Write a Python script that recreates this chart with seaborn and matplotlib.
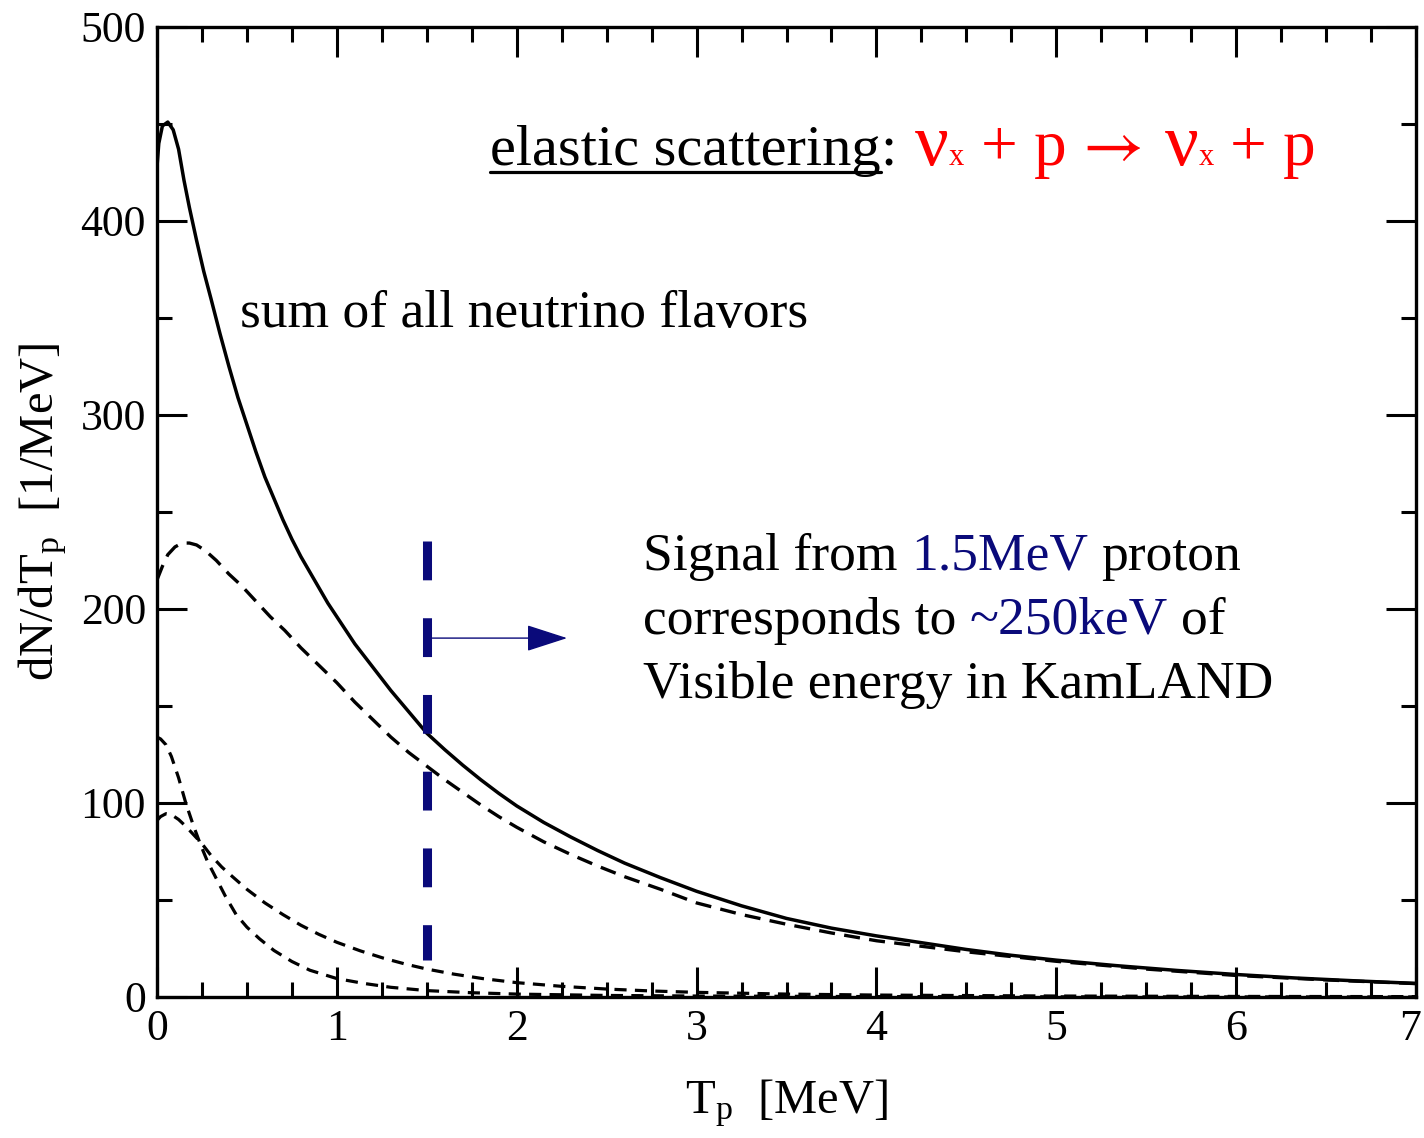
import numpy as np
import pandas as pd
import matplotlib
matplotlib.use("Agg")
import matplotlib.pyplot as plt
from matplotlib.ticker import MultipleLocator
from matplotlib.lines import Line2D
from matplotlib.transforms import ScaledTranslation
import seaborn as sns

# ---------------- data ----------------
T_sum = [0.0, 0.01, 0.03, 0.06, 0.09, 0.12, 0.15, 0.18, 0.22, 0.26, 0.30, 0.35, 0.40, 0.45,
         0.50, 0.55, 0.60, 0.65, 0.70, 0.75, 0.80, 0.85, 0.90, 0.95, 1.00, 1.10, 1.20, 1.30,
         1.40, 1.50, 1.60, 1.70, 1.80, 1.90, 2.00, 2.15, 2.30, 2.45, 2.60, 2.80, 3.00, 3.25,
         3.50, 3.75, 4.00, 4.25, 4.50, 4.75, 5.00, 5.33, 5.67, 6.00, 6.33, 6.67, 7.00]
N_sum = [428, 440, 449, 451, 447, 437, 421, 407, 390, 374, 360, 342, 325, 309,
         295, 281, 268, 257, 246, 236, 227, 219, 211, 203, 196, 182, 170, 158,
         147, 136, 127.5, 119.5, 112, 105, 98.5, 90, 82.5, 75.5, 69, 61.5, 54.5, 47,
         40.5, 35.5, 31.5, 28, 24.5, 21.5, 19, 16.2, 13.7, 11.6, 9.8, 8.3, 7]

T_dash1 = [0.0, 0.03, 0.06, 0.10, 0.14, 0.18, 0.22, 0.27, 0.33, 0.40, 0.47, 0.55, 0.63, 0.71,
           0.80, 0.90, 1.00, 1.10, 1.20, 1.30, 1.40, 1.50, 1.60, 1.70, 1.80, 1.90, 2.00, 2.15,
           2.30, 2.45, 2.60, 2.80, 3.00, 3.25, 3.50, 3.75, 4.00, 4.50, 5.00, 5.50, 6.00, 6.50, 7.00]
N_dash1 = [215, 222, 228, 232, 234, 234, 233, 230, 225, 218, 212, 204, 196, 189,
           180, 171, 162, 152, 143, 134, 126, 119, 112, 105.5, 99, 93, 87.5, 80,
           73.5, 67.5, 62, 55.5, 48.5, 42.5, 37.5, 33, 29, 23.3, 18.4, 14.4, 11.1, 8.8, 6.9]

T_dash2 = [0.0, 0.02, 0.05, 0.08, 0.12, 0.16, 0.20, 0.24, 0.28, 0.33, 0.38, 0.44, 0.50, 0.57,
           0.65, 0.75, 0.85, 1.00, 1.15, 1.30, 1.50, 1.75, 2.00, 2.50, 3.00, 4.00, 5.00, 6.00, 7.00]
N_dash2 = [134, 133, 130, 124, 113, 100, 89, 79, 70, 61, 52, 42.5, 36, 30,
           24, 18.3, 13.8, 9.5, 7, 5, 3.3, 2.2, 1.5, 0.8, 0.5, 0.2, 0.1, 0.05, 0.03]

T_dash3 = [0.0, 0.02, 0.05, 0.08, 0.12, 0.16, 0.20, 0.25, 0.30, 0.36, 0.42, 0.50, 0.60, 0.70,
           0.80, 0.90, 1.00, 1.13, 1.26, 1.38, 1.50, 1.65, 1.81, 2.00, 2.25, 2.50, 2.75, 3.00,
           3.50, 4.00, 5.00, 6.00, 7.00]
N_dash3 = [91, 93, 94.5, 94, 91.5, 88, 84, 79, 73, 67, 62, 55.5, 48.5, 42.5,
           37, 32.3, 28.2, 23.8, 20, 17, 14.4, 11.8, 9.5, 7.4, 5.5, 4.1, 3.1, 2.4,
           1.5, 1.0, 0.5, 0.3, 0.2]

signal_T = [1.5, 1.5]
signal_N = [235, 19]
arrow_T = [1.53, 2.28]
arrow_N = 185

x_ticks = [0, 1, 2, 3, 4, 5, 6, 7]
y_ticks = [0, 100, 200, 300, 400, 500]

# ---------------- style ----------------
sns.set_theme(style="ticks")
plt.rcParams["font.family"] = ["Liberation Serif", "DejaVu Serif"]
plt.rcParams["mathtext.fontset"] = "custom"
plt.rcParams["mathtext.rm"] = "Liberation Serif"
plt.rcParams["mathtext.it"] = "Liberation Serif:italic"

W, H = 1424, 1138
fig = plt.figure(figsize=(W / 100, H / 100), dpi=100)
ax = fig.add_axes([157 / W, 1 - 997 / H, (1416 - 157) / W, (997 - 27) / H])

NAVY = "#0a0a7a"

sns.lineplot(x=T_sum, y=N_sum, ax=ax, color="black", lw=2.5, sort=False, estimator=None)
sns.lineplot(x=T_dash1, y=N_dash1, ax=ax, color="black", lw=2.4, sort=False, estimator=None,
             linestyle=(0, (4.8, 2.8)))
sns.lineplot(x=T_dash2, y=N_dash2, ax=ax, color="black", lw=2.3, sort=False, estimator=None,
             linestyle=(0, (3.8, 2.6)))
sns.lineplot(x=T_dash3, y=N_dash3, ax=ax, color="black", lw=2.3, sort=False, estimator=None,
             linestyle=(0, (3.8, 2.6)))

# blue threshold line
ax.plot(signal_T, signal_N, color=NAVY, lw=6.5, linestyle=(0, (4.3, 4.2)),
        solid_capstyle="butt", dash_capstyle="butt")
ax.annotate("", xy=(arrow_T[1], arrow_N), xytext=(arrow_T[0], arrow_N),
            arrowprops=dict(arrowstyle="-|>,head_length=1.3,head_width=0.42",
                            mutation_scale=20, color=NAVY, lw=1.0, shrinkA=0, shrinkB=0))

ax.set_xlim(0, 7)
ax.set_ylim(0, 500)
ax.set_xticks(x_ticks)
ax.set_yticks(y_ticks)
ax.xaxis.set_minor_locator(MultipleLocator(0.25))
ax.yaxis.set_minor_locator(MultipleLocator(50))
ax.tick_params(which="both", direction="in", top=True, right=True, width=2.2, color="black")
ax.tick_params(which="major", length=21.5, labelsize=31.5, labelcolor="black")
ax.tick_params(axis="x", which="major", pad=9)
ax.tick_params(axis="y", which="major", pad=8)
ax.tick_params(which="minor", length=10.8)
for sp in ax.spines.values():
    sp.set_visible(True)
    sp.set_linewidth(2.4)
    sp.set_color("black")

ax.set_xlabel(r"T$_\mathrm{p}$  [MeV]", fontsize=35, labelpad=20, color="black")
ax.set_ylabel(r"dN/dT$_\mathrm{p}$  [1/MeV]", fontsize=35, labelpad=8, color="black")

# keep the last x tick label inside the canvas (nudged a few pixels left)
fig.canvas.draw()
last_lbl = ax.get_xticklabels()[-1]
last_lbl.set_transform(last_lbl.get_transform() + ScaledTranslation(-6 / 100, 0, fig.dpi_scale_trans))

# ---------------- annotations ----------------
renderer = fig.canvas.get_renderer()


def width_px(s, size, family=None):
    t = fig.text(0, 0, s, fontsize=size, family=family)
    w = t.get_window_extent(renderer).width
    t.remove()
    return w


def seq_text(x_px, y_px, parts):
    """parts: list of (text, color, size[, family]). Spaces handled explicitly."""
    x = x_px
    out = []
    for p in parts:
        s, color, size = p[:3]
        family = p[3] if len(p) > 3 else None
        sp = width_px("x x", size) - width_px("xx", size)
        lead = len(s) - len(s.lstrip(" "))
        trail = len(s) - len(s.rstrip(" "))
        core = s.strip(" ")
        x += lead * sp
        if core:
            t = fig.text(x / W, 1 - y_px / H, core, color=color, fontsize=size,
                         ha="left", va="baseline", family=family)
            bb = t.get_window_extent(renderer)
            out.append(t)
            x = bb.x1
        x += trail * sp
    return out


# title with underline
t_es = seq_text(490, 165, [("elastic scattering", "black", 42), (":", "black", 42)])
bb = t_es[0].get_window_extent(renderer)
fig.add_artist(Line2D([bb.x0 / W, bb.x1 / W], [1 - 172 / H, 1 - 172 / H],
                      transform=fig.transFigure, color="black", lw=2.3))
RED = "#ff0000"
ARROW = ["STIXGeneral", "DejaVu Sans"]
seq_text(915, 165, [("ν", RED, 54), ("x", RED, 22), (" + p ", RED, 47),
                    ("→", RED, 48, ARROW), (" ", RED, 30), ("ν", RED, 54),
                    ("x", RED, 22), (" + p", RED, 47)])

seq_text(240, 327, [("sum of all neutrino flavors", "black", 38.5)])

seq_text(643, 570, [("Signal from ", "black", 38.5), ("1.5MeV", NAVY, 38.5),
                    (" proton", "black", 38.5)])
seq_text(643, 634, [("corresponds to ", "black", 38.5), ("~250keV", NAVY, 38.5),
                    (" of", "black", 38.5)])
seq_text(643, 698, [("Visible energy in KamLAND", "black", 38.5)])

fig.savefig("out.png", dpi=100, facecolor="white")
